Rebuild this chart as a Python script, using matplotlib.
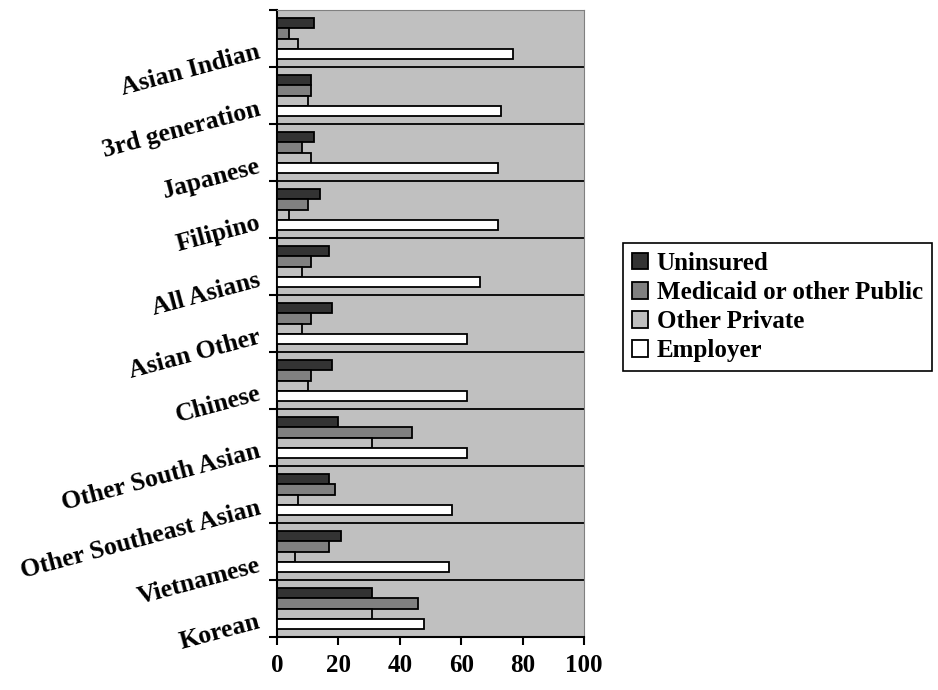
import numpy as np
import matplotlib
matplotlib.use("Agg")
import matplotlib.pyplot as plt
from matplotlib.transforms import blended_transform_factory

# groups listed top to bottom
groups = ["Asian Indian", "3rd generation", "Japanese", "Filipino", "All Asians",
          "Asian Other", "Chinese", "Other South Asian", "Other Southeast Asian",
          "Vietnamese", "Korean"]

uninsured = [12, 11, 12, 14, 17, 18, 18, 20, 17, 21, 31]
medicaid = [4, 11, 8, 10, 11, 11, 11, 44, 19, 17, 46]
other_private = [7, 10, 11, 4, 8, 8, 10, 31, 7, 6, 31]
employer = [77, 73, 72, 72, 66, 62, 62, 62, 57, 56, 48]

series_names = ["Uninsured", "Medicaid or other Public", "Other Private", "Employer"]
series_vals = [uninsured, medicaid, other_private, employer]
colors = ["#333333", "#808080", "#C0C0C0", "#FFFFFF"]

plt.rcParams["font.family"] = ["Liberation Serif", "DejaVu Serif"]
plt.rcParams["font.weight"] = "bold"

fig = plt.figure(figsize=(9.38, 6.9), dpi=100)
ax = fig.add_axes([277 / 938, 1 - 637 / 690, 307 / 938, 627 / 690])
ax.set_facecolor("#C0C0C0")

n = len(groups)
ypos = np.arange(n)[::-1]
h = 0.183
offsets = [1.5 * h, 0.5 * h, -0.5 * h, -1.5 * h]

for name, vals, c, off in zip(series_names, series_vals, colors, offsets):
    ax.barh(ypos + off, vals, height=h, color=c, edgecolor="black",
            linewidth=1.3, label=name, zorder=3)

# category separators
for b in np.arange(0.5, n - 0.5):
    ax.axhline(b, color="black", lw=1.3, zorder=2)

ax.set_xlim(0, 100)
ax.set_ylim(-0.5, n - 0.5)
ax.set_xticks(np.arange(0, 101, 20))
ax.set_yticks(np.arange(-0.5, n, 1.0))
ax.set_yticklabels([])
ax.tick_params(axis="x", direction="out", length=6, width=1.5, pad=6,
               labelsize=18)
ax.tick_params(axis="y", direction="out", length=6, width=1.5)
for lbl in ax.get_xticklabels():
    lbl.set_fontweight("bold")

ax.spines["left"].set_linewidth(1.5)
ax.spines["bottom"].set_linewidth(1.5)
ax.spines["top"].set_color("#808080")
ax.spines["right"].set_color("#808080")

# slanted group labels
trans = blended_transform_factory(ax.transAxes, ax.transData)
for name, y in zip(groups, ypos):
    ax.text(-0.05, y - 0.34, name, transform=trans, ha="right", va="baseline",
            rotation=15, rotation_mode="anchor", fontsize=18.5, fontweight="bold")

leg = fig.legend(loc="upper left", bbox_to_anchor=(623 / 938, 1 - 243 / 690),
                 prop={"weight": "bold", "size": 18},
                 frameon=True, fancybox=False, edgecolor="black",
                 framealpha=1, handlelength=0.65, handleheight=0.65,
                 handletextpad=0.35, labelspacing=0.25, borderpad=0.35,
                 borderaxespad=0)
leg.get_frame().set_linewidth(1.2)

fig.savefig("out.png", dpi=100)
